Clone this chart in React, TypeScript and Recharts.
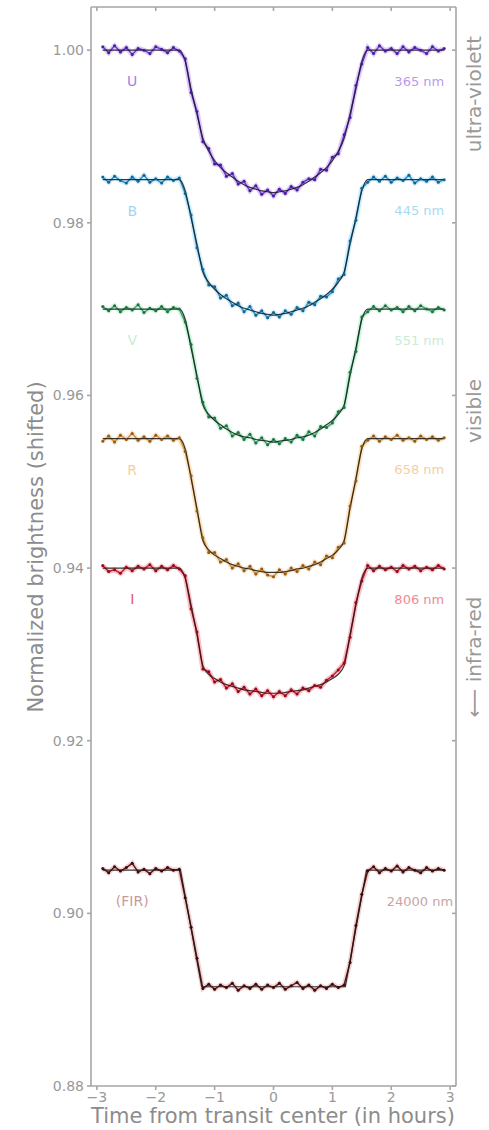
import React from "react";
import { LineChart, Line, XAxis, YAxis, ReferenceDot } from "recharts";

// observation times (hours from transit center)
const obsTimes = [
  -2.9, -2.8, -2.7, -2.6, -2.5, -2.4, -2.3, -2.2, -2.1, -2.0, -1.9, -1.8, -1.7, -1.6, -1.5,
  -1.4, -1.3, -1.2, -1.1, -1.0, -0.9, -0.8, -0.7, -0.6, -0.5, -0.4, -0.3, -0.2, -0.1, 0,
  0.1, 0.2, 0.3, 0.4, 0.5, 0.6, 0.7, 0.8, 0.9, 1.0, 1.1, 1.2, 1.3, 1.4, 1.5,
  1.6, 1.7, 1.8, 1.9, 2.0, 2.1, 2.2, 2.3, 2.4, 2.5, 2.6, 2.7, 2.8, 2.9,
];

// model curve sample times
const modelTimes = [
  -2.9, -1.6, -1.5, -1.4, -1.3, -1.2, -1.1, -1.0, -0.9, -0.8, -0.7, -0.6, -0.5, -0.4, -0.3, -0.2, -0.1, 0,
  0.1, 0.2, 0.3, 0.4, 0.5, 0.6, 0.7, 0.8, 0.9, 1.0, 1.1, 1.2, 1.3, 1.4, 1.5, 1.6, 2.9,
];
const firModelTimes = [-2.9, -1.58, -1.22, 1.22, 1.58, 2.9];

const uObs = [
  1.0004, 0.9997, 1.0005, 0.9998, 1.0003, 0.9995, 1.0002, 1.0, 0.9996, 1.0004, 1.0001, 0.9997, 1.0003, 0.9999, 0.999,
  0.9951, 0.9929, 0.9894, 0.9886, 0.9868, 0.9867, 0.9854, 0.9857, 0.9845, 0.9848, 0.9837, 0.9843, 0.9833, 0.9838, 0.9831,
  0.9839, 0.9834, 0.9842, 0.9838, 0.9847, 0.9851, 0.985, 0.9862, 0.9861, 0.9876, 0.988, 0.9902, 0.9922, 0.9959, 0.9984,
  1.0003, 0.9996, 1.0005, 0.9999, 1.0002, 0.9996, 1.0004, 0.9998, 1.0003, 1.0, 0.9996, 1.0004, 0.9999, 1.0002,
];
const uModel = [
  1.0, 1.0, 0.9987, 0.9955, 0.9926, 0.9898, 0.9883, 0.9872, 0.9864, 0.9858, 0.9853, 0.9848, 0.9844, 0.9841, 0.9839, 0.9837, 0.9836, 0.9835,
  0.9836, 0.9837, 0.9839, 0.9841, 0.9844, 0.9848, 0.9853, 0.9858, 0.9864, 0.9872, 0.9883, 0.9898, 0.9926, 0.9955, 0.9987, 1.0, 1.0,
];

const bObs = [
  0.9853, 0.9847, 0.9854, 0.9849, 0.9846, 0.9853, 0.9848, 0.9855, 0.9847, 0.9851, 0.9846, 0.9853, 0.9849, 0.9852, 0.9834,
  0.9809, 0.9771, 0.9746, 0.9728, 0.9726, 0.9713, 0.9716, 0.9704, 0.9707, 0.9697, 0.9703, 0.9693, 0.9698, 0.969, 0.9696,
  0.9691, 0.9698, 0.9694, 0.9702, 0.9698, 0.9708, 0.9705, 0.9715, 0.9714, 0.972, 0.9735, 0.974, 0.9779, 0.9803, 0.984,
  0.9847, 0.9853, 0.9848, 0.9854, 0.9847, 0.9852, 0.9849, 0.9855, 0.9846, 0.9851, 0.9848, 0.9853, 0.9847, 0.985,
];
const bModel = [
  0.985, 0.985, 0.9837, 0.9806, 0.9775, 0.9743, 0.9731, 0.9723, 0.9717, 0.9712, 0.9708, 0.9704, 0.9701, 0.9699, 0.9697, 0.9695, 0.9694, 0.9693,
  0.9694, 0.9695, 0.9697, 0.9699, 0.9701, 0.9704, 0.9708, 0.9712, 0.9717, 0.9723, 0.9731, 0.9743, 0.9775, 0.9806, 0.9837, 0.985, 0.985,
];

const vObs = [
  0.9703, 0.9698, 0.9704, 0.9697, 0.9702, 0.9699, 0.9705, 0.9696, 0.9701, 0.9698, 0.9703, 0.9697, 0.9702, 0.97, 0.9685,
  0.9659, 0.962, 0.9592, 0.9575, 0.9574, 0.9562, 0.9565, 0.9553, 0.9557, 0.9549, 0.9555, 0.9545, 0.9551, 0.9543, 0.9549,
  0.9544, 0.955, 0.9546, 0.9554, 0.9549, 0.9558, 0.9553, 0.9564, 0.9563, 0.9568, 0.9581, 0.9586, 0.9627, 0.9651, 0.9691,
  0.9697, 0.9703, 0.9698, 0.9704, 0.9699, 0.9702, 0.9697, 0.9703, 0.9698, 0.9704, 0.97, 0.9697, 0.9702, 0.9699,
];
const vModel = [
  0.97, 0.97, 0.9688, 0.9655, 0.9623, 0.9589, 0.9578, 0.9571, 0.9566, 0.9561, 0.9557, 0.9554, 0.9552, 0.9551, 0.9549, 0.9548, 0.9547, 0.9546,
  0.9547, 0.9548, 0.9549, 0.9551, 0.9552, 0.9554, 0.9557, 0.9561, 0.9566, 0.9571, 0.9578, 0.9589, 0.9623, 0.9655, 0.9688, 0.97, 0.97,
];

const rObs = [
  0.9547, 0.9553, 0.9546, 0.9554, 0.9549, 0.9556, 0.9548, 0.9552, 0.9547, 0.9554, 0.9549, 0.9553, 0.9548, 0.9551, 0.9535,
  0.9507, 0.9466, 0.9435, 0.9418, 0.9418, 0.9407, 0.941, 0.94, 0.9405, 0.9397, 0.9402, 0.9393, 0.9399, 0.9392, 0.939,
  0.9398, 0.9393, 0.94, 0.9396, 0.9403, 0.9399, 0.9407, 0.9404, 0.9414, 0.9412, 0.9424, 0.9429, 0.9472, 0.9501, 0.9541,
  0.9548, 0.9553, 0.9547, 0.9552, 0.9549, 0.9554, 0.9548, 0.9551, 0.9547, 0.9553, 0.9549, 0.9552, 0.9548, 0.9551,
];
const rModel = [
  0.955, 0.955, 0.9538, 0.9504, 0.9469, 0.9432, 0.9421, 0.9415, 0.9411, 0.9407, 0.9404, 0.9402, 0.94, 0.9399, 0.9397, 0.9396, 0.9395, 0.9395,
  0.9395, 0.9396, 0.9397, 0.9399, 0.94, 0.9402, 0.9404, 0.9407, 0.9411, 0.9415, 0.9421, 0.9432, 0.9469, 0.9504, 0.9538, 0.955, 0.955,
];

const iObs = [
  0.9403, 0.9396, 0.9398, 0.9394, 0.9401, 0.9397, 0.9402, 0.9399, 0.9404, 0.9397, 0.9402, 0.9398, 0.9403, 0.9399, 0.9391,
  0.9353, 0.9326, 0.9283, 0.928, 0.9268, 0.9271, 0.9261, 0.9266, 0.9257, 0.9262, 0.9254, 0.926, 0.9252, 0.9258, 0.9251,
  0.9257, 0.9252, 0.9259, 0.9254, 0.9261, 0.9258, 0.9264, 0.9262, 0.927, 0.9275, 0.9282, 0.929, 0.932, 0.936, 0.9385,
  0.9403, 0.9397, 0.9402, 0.9398, 0.9401, 0.9396, 0.9403, 0.9399, 0.9402, 0.9397, 0.9401, 0.9398, 0.9403, 0.9399,
];
const iModel = [
  0.94, 0.94, 0.9388, 0.9357, 0.9323, 0.9287, 0.9277, 0.9272, 0.9268, 0.9265, 0.9263, 0.9261, 0.9259, 0.9258, 0.9257, 0.9256, 0.9255, 0.9255,
  0.9255, 0.9256, 0.9257, 0.9258, 0.9259, 0.9261, 0.9263, 0.9265, 0.9268, 0.9272, 0.9277, 0.9287, 0.9323, 0.9357, 0.9388, 0.94, 0.94,
];

const firObs = [
  0.9052, 0.9047, 0.9054, 0.9049, 0.9053, 0.9058, 0.9048, 0.9051, 0.9046, 0.9052, 0.9049, 0.9053, 0.905, 0.9051, 0.9018,
  0.8984, 0.8948, 0.8913, 0.8918, 0.8912, 0.8917, 0.8914, 0.8919, 0.8911, 0.8916, 0.8913, 0.8918, 0.8912, 0.8917, 0.8914,
  0.8919, 0.8912, 0.8916, 0.892, 0.8913, 0.8917, 0.8911, 0.8916, 0.8913, 0.8918, 0.8914, 0.8917, 0.8943, 0.8986, 0.9022,
  0.9049, 0.9054, 0.9047, 0.9052, 0.9049, 0.9055, 0.9048, 0.9053, 0.905, 0.9047, 0.9053, 0.9049, 0.9052, 0.905,
];
const firModel = [0.905, 0.905, 0.8915, 0.8915, 0.905, 0.905];

const baselines = [1.0, 0.985, 0.97, 0.955, 0.94, 0.905];
const bandNames = ["U", "B", "V", "R", "I", "(FIR)"];
const wavelengths = ["365 nm", "445 nm", "551 nm", "658 nm", "806 nm", "24000 nm"];

const xTicks = [-3, -2, -1, 0, 1, 2, 3];
const yTicks = [0.88, 0.9, 0.92, 0.94, 0.96, 0.98, 1.0];

const rows = (ts: number[], vs: number[]) => ts.map((t, i) => ({ t, v: vs[i] }));

const bands = [
  { obs: uObs, model: uModel, mt: modelTimes, line: "#7434dc", dot: "#4a1c9e", halo: "#cdb8f2", name: "#a47ee8", wave: "#b89af0", wx: 2.9 },
  { obs: bObs, model: bModel, mt: modelTimes, line: "#2592d0", dot: "#14648f", halo: "#bfe6f8", name: "#9fd6f2", wave: "#a8daf2", wx: 2.9 },
  { obs: vObs, model: vModel, mt: modelTimes, line: "#3aa868", dot: "#236f42", halo: "#c6eed6", name: "#c8ecd4", wave: "#c8ecd4", wx: 2.9 },
  { obs: rObs, model: rModel, mt: modelTimes, line: "#d4923a", dot: "#8c5a1c", halo: "#f6dcb8", name: "#f3cfa5", wave: "#f3cfa5", wx: 2.9 },
  { obs: iObs, model: iModel, mt: modelTimes, line: "#cc1e30", dot: "#900c1a", halo: "#f4aab2", name: "#e05a6a", wave: "#f08a96", wx: 2.9 },
  { obs: firObs, model: firModel, mt: firModelTimes, line: "#641616", dot: "#3a0b0b", halo: "#ecc0c0", name: "#c89a9a", wave: "#c8a4a4", wx: 3.05 },
];

const fmtX = (v: number) => (v < 0 ? "\u2212" + Math.abs(v) : String(v));
const fmtY = (v: number) => v.toFixed(2);
const noLabel = () => <g />;

const axisGray = "#a6a6a6";
const textGray = "#999999";
const font = "'DejaVu Sans', sans-serif";

export default function App() {
  return (
    <div style={{ position: "absolute", left: 0, top: 0, width: 489, height: 1130, background: "#fff", fontFamily: font }}>
      <LineChart width={489} height={1130} margin={{ top: 7, right: 33, bottom: 0, left: 0 }}>
        <XAxis
          xAxisId="b"
          type="number"
          dataKey="t"
          domain={[-3.1, 3.1]}
          ticks={xTicks}
          allowDataOverflow
          height={44}
          stroke={axisGray}
          strokeWidth={1.6}
          tickSize={4}
          tickMargin={2}
          tick={{ fill: textGray, fontSize: 14, fontFamily: font }}
          tickFormatter={fmtX}
        />
        <XAxis
          xAxisId="top"
          orientation="top"
          type="number"
          dataKey="t"
          domain={[-3.1, 3.1]}
          ticks={xTicks}
          allowDataOverflow
          height={1}
          mirror
          stroke={axisGray}
          strokeWidth={1.6}
          tickSize={4}
          tick={noLabel}
        />
        <YAxis
          yAxisId="l"
          type="number"
          domain={[0.88, 1.005]}
          ticks={yTicks}
          allowDataOverflow
          width={91}
          stroke={axisGray}
          strokeWidth={1.6}
          tickSize={4}
          tickMargin={3}
          tick={{ fill: textGray, fontSize: 14, fontFamily: font }}
          tickFormatter={fmtY}
        />
        <YAxis
          yAxisId="r"
          orientation="right"
          type="number"
          domain={[0.88, 1.005]}
          ticks={yTicks}
          allowDataOverflow
          width={1}
          mirror
          stroke={axisGray}
          strokeWidth={1.6}
          tickSize={4}
          tick={noLabel}
        />

        {/* invisible series tied to the top and right frame axes */}
        <Line
          xAxisId="top"
          yAxisId="r"
          data={rows(obsTimes, uObs)}
          dataKey="v"
          stroke="transparent"
          dot={false}
          activeDot={false}
          isAnimationActive={false}
        />

        {bands.map((b, k) => (
          <Line
            key={"halo" + k}
            xAxisId="b"
            yAxisId="l"
            data={rows(obsTimes, b.obs)}
            dataKey="v"
            type="linear"
            stroke={b.halo}
            strokeWidth={5}
            strokeOpacity={0.7}
            dot={false}
            activeDot={false}
            isAnimationActive={false}
          />
        ))}
        {bands.map((b, k) => (
          <Line
            key={"obs" + k}
            xAxisId="b"
            yAxisId="l"
            data={rows(obsTimes, b.obs)}
            dataKey="v"
            type="linear"
            stroke={b.line}
            strokeWidth={1.5}
            dot={{ r: 1.5, fill: b.dot, stroke: "none" }}
            activeDot={false}
            isAnimationActive={false}
          />
        ))}
        {bands.map((b, k) => (
          <Line
            key={"model" + k}
            xAxisId="b"
            yAxisId="l"
            data={rows(b.mt, b.model)}
            dataKey="v"
            type={k === 5 ? "linear" : "monotone"}
            stroke="#151515"
            strokeWidth={1.2}
            strokeOpacity={0.85}
            dot={false}
            activeDot={false}
            isAnimationActive={false}
          />
        ))}

        {bands.map((b, k) => (
          <ReferenceDot
            key={"n" + k}
            xAxisId="b"
            yAxisId="l"
            x={-2.4}
            y={baselines[k] - 0.0036}
            r={0}
            fill="none"
            stroke="none"
            label={{ value: bandNames[k], position: "center", fill: b.name, fontSize: 14, fontFamily: font }}
          />
        ))}
        {bands.map((b, k) => (
          <ReferenceDot
            key={"w" + k}
            xAxisId="b"
            yAxisId="l"
            x={b.wx}
            y={baselines[k] - 0.0036}
            r={0}
            fill="none"
            stroke="none"
            label={{ value: wavelengths[k], position: "left", offset: 0, fill: b.wave, fontSize: 13, fontFamily: font }}
          />
        ))}
      </LineChart>

      <svg width={489} height={1130} style={{ position: "absolute", left: 0, top: 0, pointerEvents: "none" }}>
        <g fontFamily={font} fill="#8c8c8c">
          <text transform="translate(43,547) rotate(-90)" textAnchor="middle" fontSize={21}>
            Normalized brightness (shifted)
          </text>
          <text x={273} y={1123} textAnchor="middle" fontSize={21}>
            Time from transit center (in hours)
          </text>
        </g>
        <g fontFamily={font} fill={textGray} fontSize={20}>
          <text transform="translate(481,94) rotate(-90)" textAnchor="middle">ultra-violett</text>
          <text transform="translate(481,411) rotate(-90)" textAnchor="middle">visible</text>
          <text transform="translate(481,657) rotate(-90)" textAnchor="middle">{"\u27F5 infra-red"}</text>
        </g>
      </svg>
    </div>
  );
}
